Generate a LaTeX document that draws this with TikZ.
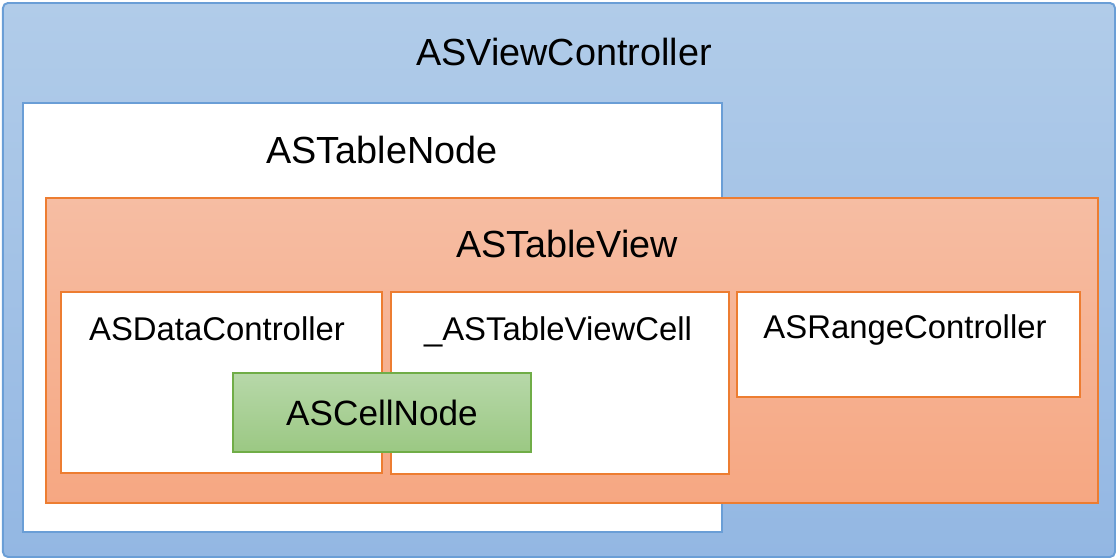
\documentclass[tikz,border=0pt]{standalone}
\usepackage{fontspec}
\setmainfont{Liberation Sans}
\usepackage{tikz}
\definecolor{bleuhaut}{HTML}{B1CCE9}
\definecolor{bleubas}{HTML}{93B7E3}
\definecolor{bleutrait}{HTML}{6A9ED6}
\definecolor{orangehaut}{HTML}{F6BDA3}
\definecolor{orangebas}{HTML}{F6A782}
\definecolor{orangetrait}{HTML}{ED7D31}
\definecolor{verthaut}{HTML}{B7D8A9}
\definecolor{vertbas}{HTML}{9BC883}
\definecolor{verttrait}{HTML}{70AD47}
\tikzstyle{cadre} = [rectangle, anchor=north west, line width=1.1pt, inner sep=0pt]
\tikzstyle{bleu} = [cadre, draw=bleutrait, top color=bleuhaut, bottom color=bleubas]
\tikzstyle{blanc} = [cadre, draw=bleutrait, fill=white]
\tikzstyle{orange} = [cadre, draw=orangetrait, top color=orangehaut, bottom color=orangebas]
\tikzstyle{blancorange} = [cadre, draw=orangetrait, fill=white]
\tikzstyle{vert} = [cadre, draw=verttrait, top color=verthaut, bottom color=vertbas, font=\fontsize{20}{24}\selectfont]
\tikzstyle{grand} = [anchor=base, inner sep=0pt, font=\fontsize{21.5}{25}\selectfont]
\tikzstyle{petit} = [anchor=base, inner sep=0pt, font=\fontsize{18.7}{22}\selectfont]

\begin{document}
\begin{tikzpicture}
    \useasboundingbox (0,0) rectangle (22.32,-11.16);

    \node [bleu, rounded corners=0.1cm, minimum width=22.24cm, minimum height=11.08cm] (vc) at (0.04,-0.04) {};
    \node [grand] (vctitre) at (11.28,-1.30) {ASViewController};

    \node [blanc, minimum width=13.98cm, minimum height=8.58cm] (tablenode) at (0.44,-2.04) {};
    \node [grand] (tablenodetitre) at (7.64,-3.26) {ASTableNode};

    \node [orange, minimum width=21.04cm, minimum height=6.10cm] (tableview) at (0.90,-3.94) {};
    \node [grand] (tableviewtitre) at (11.34,-5.14) {ASTableView};

    \node [blancorange, minimum width=6.42cm, minimum height=3.62cm] (datactrl) at (1.20,-5.82) {};
    \node [petit] (datactrltitre) at (4.34,-6.80) {ASDataController};

    \node [blancorange, minimum width=6.76cm, minimum height=3.64cm] (cell) at (7.80,-5.82) {};
    \node [petit] (celltitre) at (11.16,-6.80) {\_ASTableViewCell};

    \node [blancorange, minimum width=6.86cm, minimum height=2.10cm] (range) at (14.72,-5.82) {};
    \node [petit] (rangetitre) at (18.10,-6.76) {ASRangeController};

    \node [vert, minimum width=5.96cm, minimum height=1.58cm] (cellnode) at (4.64,-7.44) {ASCellNode};
\end{tikzpicture}
\end{document}
